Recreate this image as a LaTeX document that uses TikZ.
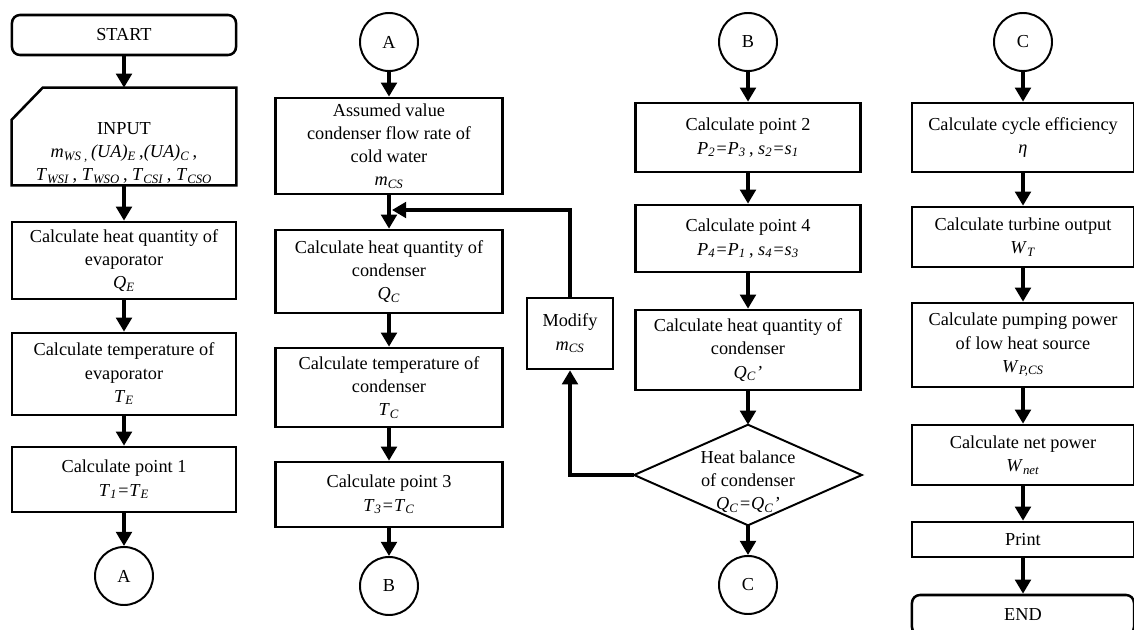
\documentclass[tikz,border=0pt]{standalone}
\usepackage{fontspec}
\setmainfont{Liberation Serif}
\usetikzlibrary{arrows.meta}
\usetikzlibrary{calc}
\newcommand{\vsub}[2]{\textit{#1}\textsubscript{\textit{#2}}}

\begin{document}
\begin{tikzpicture}[x=0.025cm,y=-0.025cm,
	font=\fontsize{13}{16.5}\selectfont,
	box/.style={draw,line width=1.8pt,rectangle,align=center,inner sep=0pt},
	term/.style={box,rounded corners=0.2cm},
	conn/.style={draw,circle,line width=1.4pt,minimum size=1.45cm,inner sep=0pt},
	flow/.style={line width=3pt,-{Triangle[length=10pt,width=11pt]}}]
	\clip (0,0) rectangle (1134,630);

	% column 1
	\node[term,minimum width=5.6cm,minimum height=1.0cm] (start) at (124,35) {START};
	\node[inner sep=0pt,minimum width=5.6cm,minimum height=2.425cm] (input) at (124,136.5) {};
	\draw[line width=1.8pt] (input.south west) -- (input.south east) -- (input.north east)
		-- ($(input.north west)+(31,0)$) -- ($(input.north west)+(0,32)$) -- cycle;
	\node[align=center,inner sep=0pt] (inputtxt) at (124,153) {INPUT\\
		\vsub{m}{WS ,}\,\textit{(UA)}\textsubscript{\textit{E}}\,,\textit{(UA)}\textsubscript{\textit{C}}\,,\\
		\vsub{T}{WSI}\,, \vsub{T}{WSO}\,, \vsub{T}{CSI}\,, \vsub{T}{CSO}};
	\node[box,minimum width=5.6cm,minimum height=1.925cm] (qe) at (124,260.5) {Calculate heat quantity of\\evaporator\\\vsub{Q}{E}};
	\node[box,minimum width=5.6cm,minimum height=2.05cm] (te) at (124,374) {Calculate temperature of\\evaporator\\\vsub{T}{E}};
	\node[box,minimum width=5.6cm,minimum height=1.625cm] (p1) at (124,479.5) {Calculate point 1\\\vsub{T}{1}\textit{=}\vsub{T}{E}};
	\node[conn] (ca1) at (124,576) {A};

	% column 2
	\node[conn] (ca2) at (389,42) {A};
	\node[box,minimum width=5.675cm,minimum height=2.4cm] (assume) at (389,146) {Assumed value\\condenser flow rate of\\cold water\\\vsub{m}{CS}};
	\node[box,minimum width=5.675cm,minimum height=2.075cm] (qc) at (389,271.5) {Calculate heat quantity of\\condenser\\\vsub{Q}{C}};
	\node[box,minimum width=5.675cm,minimum height=1.975cm] (tc) at (389,387.5) {Calculate temperature of\\condenser\\\vsub{T}{C}};
	\node[box,minimum width=5.675cm,minimum height=1.625cm] (p3) at (389,494.5) {Calculate point 3\\\vsub{T}{3}\textit{=}\vsub{T}{C}};
	\node[conn] (cb1) at (389,586) {B};

	% column 3
	\node[conn] (cb2) at (748,42) {B};
	\node[box,minimum width=5.625cm,minimum height=1.725cm] (p2) at (748,137.5) {Calculate point 2\\\vsub{P}{2}\textit{=}\vsub{P}{3}\,, \vsub{s}{2}\textit{=}\vsub{s}{1}};
	\node[box,minimum width=5.625cm,minimum height=1.675cm] (p4) at (748,238.5) {Calculate point 4\\\vsub{P}{4}\textit{=}\vsub{P}{1}\,, \vsub{s}{4}\textit{=}\vsub{s}{3}};
	\node[box,minimum width=5.625cm,minimum height=2.0cm] (qc2) at (748,350) {Calculate heat quantity of\\condenser\\\vsub{Q}{C}\textit{’}};
	\node[align=center,inner sep=0pt,minimum width=5.675cm,minimum height=2.5cm] (bal) at (748,475) {\\[2pt]Heat balance\\of condenser\\\vsub{Q}{C}\textit{=}\vsub{Q}{C}\textit{’}};
	\draw[line width=1.4pt] (bal.north) -- (bal.east) -- (bal.south) -- (bal.west) -- cycle;
	\node[conn] (cc1) at (748,585) {C};
	\node[box,minimum width=2.15cm,minimum height=1.775cm] (modify) at (570,333.5) {Modify\\\vsub{m}{CS}};
	\coordinate (jn) at (392,210);

	% column 4
	\node[conn] (cc2) at (1023,42) {C};
	\node[box,minimum width=5.55cm,minimum height=1.725cm] (eta) at (1023,137.5) {Calculate cycle efficiency\\\textit{η}};
	\node[box,minimum width=5.55cm,minimum height=1.5cm] (wt) at (1023,237) {Calculate turbine output\\\vsub{W}{T}};
	\node[box,minimum width=5.55cm,minimum height=2.1cm] (wp) at (1023,345) {Calculate pumping power\\of low heat source\\\vsub{W}{P,CS}};
	\node[box,minimum width=5.55cm,minimum height=1.5cm] (wnet) at (1023,455) {Calculate net power\\\vsub{W}{net}};
	\node[box,minimum width=5.55cm,minimum height=0.875cm] (print) at (1023,539.5) {Print};
	\node[term,minimum width=5.55cm,minimum height=1.0cm] (end) at (1023,615) {END};

	% connectors
	\foreach \a/\b in {start/input,input/qe,qe/te,te/p1,p1/ca1} \draw[flow] (\a) -- (\b);
	\foreach \a/\b in {ca2/assume,assume/qc,qc/tc,tc/p3,p3/cb1} \draw[flow] (\a) -- (\b);
	\foreach \a/\b in {cb2/p2,p2/p4,p4/qc2,qc2/bal,bal/cc1} \draw[flow] (\a) -- (\b);
	\foreach \a/\b in {cc2/eta,eta/wt,wt/wp,wp/wnet,wnet/print,print/end} \draw[flow] (\a) -- (\b);

	% feedback loop
	\draw[flow] (bal.west) -| (modify.south);
	\draw[flow] (modify.north) |- (jn);
\end{tikzpicture}
\end{document}
